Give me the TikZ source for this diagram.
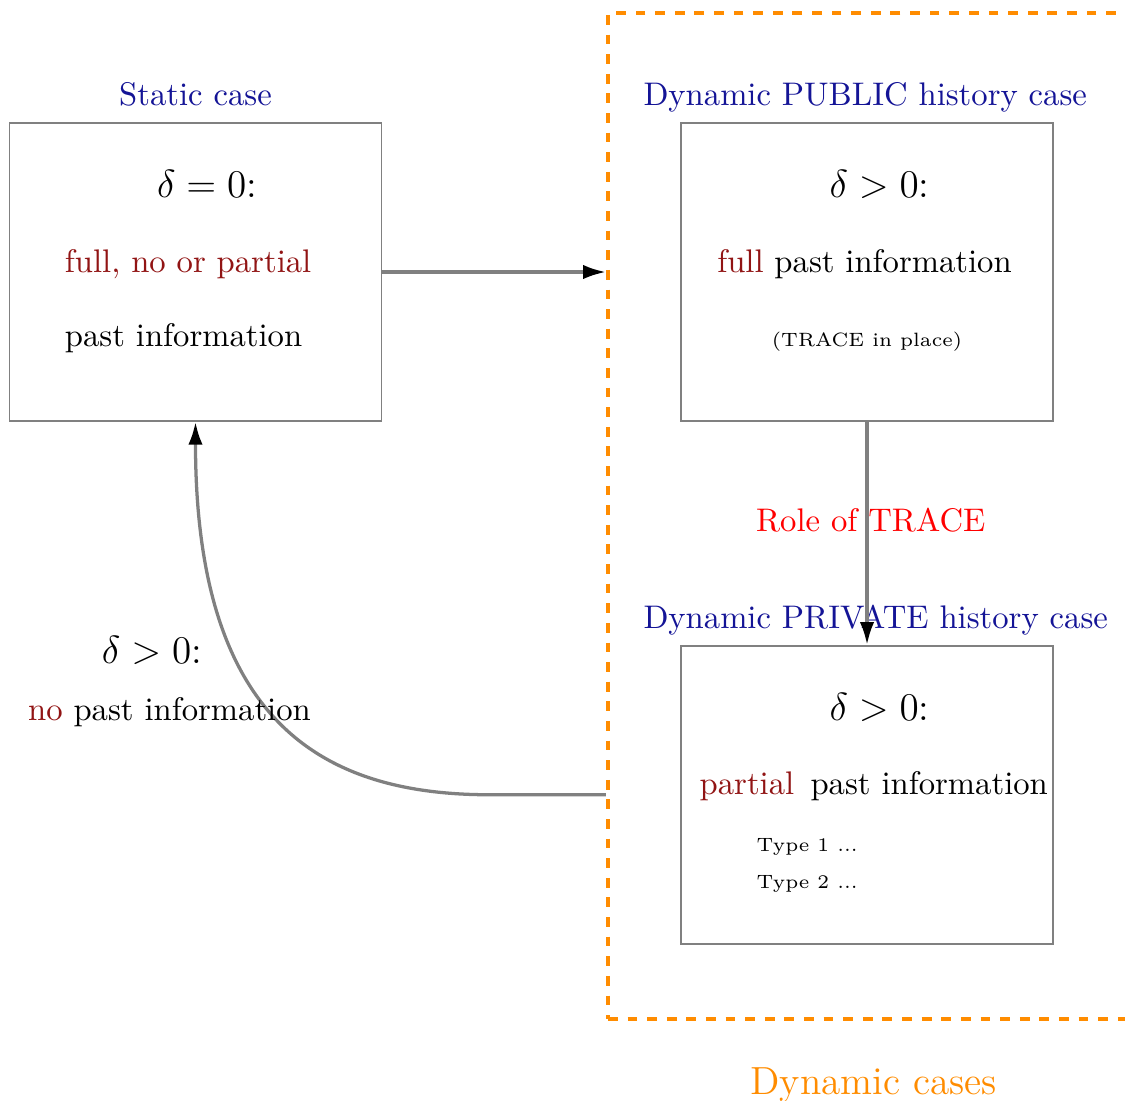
\documentclass[tikz,border=0pt]{standalone}
\usepackage{amsmath, amssymb}
\usepackage{tikz}
\usetikzlibrary{arrows.meta, positioning, calc}

\definecolor{titleblue}{RGB}{20,20,150}
\definecolor{infored}{RGB}{145,20,20}
\definecolor{frameorange}{RGB}{255,140,0}

\tikzset{
    casebox/.style={draw=gray, line width=0.6pt, minimum width=4cm, minimum height=3.2cm},
    casetitle/.style={text=titleblue, inner sep=0pt},
    txt/.style={inner sep=0pt},
    small/.style={inner sep=0pt, font=\fontsize{5.9pt}{7pt}\selectfont},
    link/.style={draw=gray, line width=1pt, -{Latex[color=black, length=7pt, width=4.4pt]}},
    dynframe/.style={draw=frameorange, very thick, dashed, minimum width=6.6cm, minimum height=10.82cm, inner sep=0pt}
}

\begin{document}
\begin{tikzpicture}
    % picture size and margins
    \useasboundingbox (0,0) rectangle (12.097,-11.839);

    % the three cases
    \node[casebox] (static) at (2.102,-2.925) {};
    \node[casebox, right=3.2cm of static] (public) {};
    \node[casebox, below=2.4cm of public] (private) {};

    % frame round the dynamic cases
    \node[dynframe, anchor=north west] (dyn) at (6.516,-0.12) {};
    \node[txt, anchor=base, text=frameorange, font=\large] (dyntitle) at ([shift={(0.07,-1.615)}]private.south) {Dynamic cases};

    % titles
    \node[casetitle, anchor=base] (statictitle) at ([yshift=0.18cm]static.north) {Static case};
    \node[casetitle, anchor=base west] (publictitle) at ([shift={(-0.4,0.18)}]public.north west) {Dynamic PUBLIC history case};
    \node[casetitle, anchor=base west] (privatetitle) at ([shift={(-0.4,0.18)}]private.north west) {Dynamic PRIVATE history case};

    % static case
    \node[txt, anchor=base] (staticdelta) at ([shift={(0.124,0.796)}]static.center) {\large $\delta = 0$:};
    \node[txt, anchor=base west, text=infored] (staticinfo) at ([xshift=0.6cm]static.west) {full, no or partial};
    \node[txt, anchor=base west] (staticpast) at ([shift={(0.6,-0.806)}]static.west) {past information};

    % public history case
    \node[txt, anchor=base] (publicdelta) at ([shift={(0.135,0.796)}]public.center) {\large $\delta > 0$:};
    \node[txt, anchor=base] (publicinfo) at ([xshift=-0.027cm]public.center) {\textcolor{infored}{full} past information};
    \node[small, anchor=base] (publictrace) at ([yshift=-0.806cm]public.center) {(TRACE in place)};

    % private history case
    \node[txt, anchor=base] (privatedelta) at ([shift={(0.135,0.796)}]private.center) {\large $\delta > 0$:};
    \node[txt, anchor=base west] (privateinfo) at ([xshift=0.204cm]private.west) {\textcolor{infored}{partial}~\,past information};
    \node[small, anchor=base west] (typeone) at ([shift={(0.817,-0.613)}]private.west) {Type 1 ...};
    \node[small, anchor=base west] (typetwo) at ([shift={(0.817,-1.01)}]private.west) {Type 2 ...};

    % connectors
    \draw[link] (static.east) -- (static.east -| dyn.west);
    \draw[link] (public) -- node[txt, pos=0.44, xshift=0.04cm, text=red] (trace) {Role of TRACE} (private);
    \coordinate (back) at (private.west -| dyn.west);
    \draw[link] (back) -- ++(-1.25,0) .. controls +(-1.83,0) and +(0,-3.2) .. (static.south);

    % way back to the static case
    \node[txt, anchor=base] (backdelta) at ([shift={(-0.468,-2.602)}]static.south) {\large $\delta > 0$:};
    \node[txt, anchor=base west] (backinfo) at ([shift={(0.204,-3.215)}]static.south west) {\textcolor{infored}{no} past information};
\end{tikzpicture}
\end{document}
